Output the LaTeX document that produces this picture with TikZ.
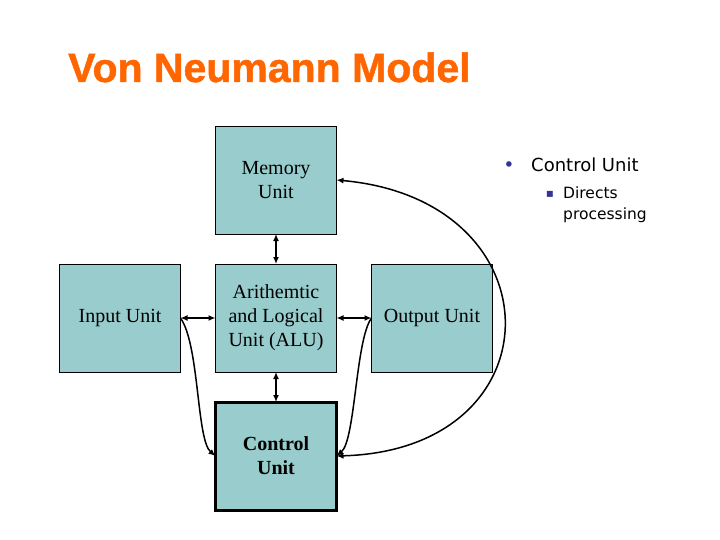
\documentclass[tikz,border=0pt]{standalone}
\usepackage{fontspec}
\setmainfont{Liberation Serif}
\newfontfamily\titlefont[BoldFeatures={FakeBold=1.2}]{Liberation Sans}
\newfontfamily\bulletfont{DejaVu Sans}
\usepackage{xcolor}
\usetikzlibrary{arrows.meta, calc, positioning}
\definecolor{unitfill}{HTML}{99CCCC}
\definecolor{titleorange}{HTML}{FF6600}
\definecolor{bulletblue}{HTML}{333399}

\begin{document}
\begin{tikzpicture}[x=1pt, y=-1pt, node distance=30pt and 35pt,
  unit/.style={draw, fill=unitfill, line width=0.8pt, minimum width=121pt,
    minimum height=108pt, inner sep=0pt, outer sep=0pt, align=center,
    font=\fontsize{20}{24}\selectfont},
  link/.style={line width=1.5pt, {Latex[length=7pt,width=6pt]}-{Latex[length=7pt,width=6pt]}},
  tolink/.style={line width=1.5pt, -{Latex[length=7pt,width=6pt]}},
  bullettext/.style={anchor=base west, inner sep=0pt, font=\bulletfont\fontsize{18}{21}\selectfont},
  subtext/.style={anchor=base west, inner sep=0pt, font=\bulletfont\fontsize{15.5}{20}\selectfont}]
\fill[white] (0,0) rectangle (720,540);

% title
\node (title) [anchor=base west, inner sep=0pt, text=titleorange,
  font=\titlefont\bfseries\fontsize{41}{44}\selectfont] at (68,82) {Von Neumann Model};

% units
\node (alu) [unit] at (276,318) {Arithemtic\\and Logical\\Unit (ALU)};
\node (mem) [unit, above=of alu] {Memory\\Unit};
\node (inp) [unit, left=of alu] {Input Unit};
\node (out) [unit, right=of alu] {Output Unit};
\node (ctrl) [unit, below=of alu, line width=3pt, font=\fontsize{20}{24}\selectfont\bfseries] {Control\\Unit};

% connections
\path[link] (mem) edge (alu);
\path[link] (alu) edge (ctrl);
\path[link] (inp) edge (alu);
\path[link] (alu) edge (out);
\draw[tolink] (inp.east) .. controls ($(inp.east)+(19,27)$) and ($(ctrl.west)+(-19,-16)$) .. (ctrl.west);
\draw[tolink] (out.west) .. controls ($(out.west)+(-16,22)$) and ($(ctrl.east)+(19,-16)$) .. (ctrl.east);
\draw[link] (mem.east) .. controls ($(mem.east)+(223,20)$) and ($(ctrl.east)+(223,-6)$) .. (ctrl.east);

% bullets
\node (dot) [anchor=base, inner sep=0pt, text=bulletblue, font=\bulletfont\fontsize{19}{21}\selectfont] at (509,172) {•};
\node (ctrlnote) [bullettext] at (531,172) {Control Unit};
\node (sq) [anchor=base, inner sep=0pt, text=bulletblue, font=\bulletfont\fontsize{12}{14}\selectfont] at (550,198) {▪};
\node (note1) [subtext] at (563,199) {Directs};
\node (note2) [subtext] at ($(note1.base west)+(0,21)$) {processing};
\end{tikzpicture}
\end{document}
